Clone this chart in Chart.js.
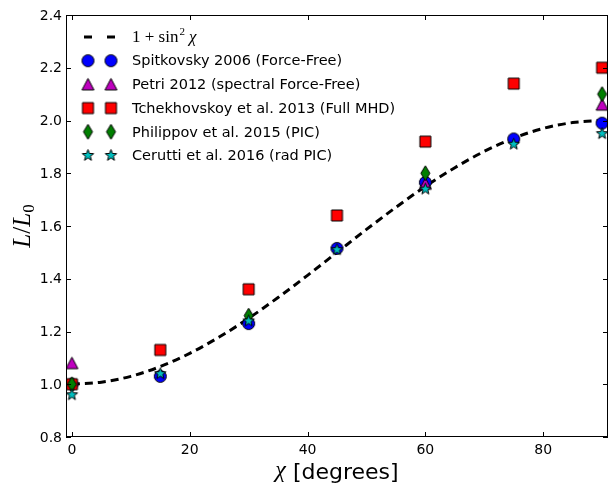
<!DOCTYPE html>
<html><head><meta charset="utf-8">
<script src="https://cdn.jsdelivr.net/npm/chart.js@4.4.1/dist/chart.umd.min.js"></script>
<style>html,body{margin:0;padding:0;background:#fff;}canvas{display:block;}</style>
</head><body>
<canvas id="c" width="611" height="486"></canvas>
<script>
// ---- data ----
const curveX = [0,5,10,15,20,25,30,35,40,45,50,55,60,65,70,75,80,85,90];
const curveY = [1.000,1.008,1.030,1.067,1.117,1.179,1.250,1.329,1.413,1.500,1.587,1.671,1.750,1.821,1.883,1.933,1.970,1.992,2.000];
const spitX = [0,15,30,45,60,75,90];
const spitY = [1.00,1.03,1.23,1.515,1.765,1.93,1.99];
const petriX = [0,60,90];
const petriY = [1.08,1.76,2.06];
const tchekX = [0,15,30,45,60,75,90];
const tchekY = [1.00,1.13,1.36,1.64,1.92,2.14,2.20];
const philX = [0,30,60,90];
const philY = [1.00,1.26,1.80,2.10];
const cerX = [0,15,30,45,60,75,90];
const cerY = [0.96,1.04,1.24,1.51,1.74,1.91,1.95];
const xTicks = [0,20,40,60,80];
const yTicks = [0.8,1.0,1.2,1.4,1.6,1.8,2.0,2.2,2.4];
const labels = ['Spitkovsky 2006 (Force-Free)','Petri 2012 (spectral Force-Free)','Tchekhovskoy et al. 2013 (Full MHD)','Philippov et al. 2015 (PIC)','Cerutti et al. 2016 (rad PIC)'];

function pts(xs, ys){ return xs.map((x,i)=>({x:x,y:ys[i]})); }

// ---- marker images ----
function mk(size, fill, path){
  const c = document.createElement('canvas'); c.width = size; c.height = size;
  const g = c.getContext('2d'); const m = size/2;
  g.beginPath(); path(g, m); g.closePath();
  g.fillStyle = fill; g.fill(); g.lineWidth = 1; g.strokeStyle = '#000'; g.stroke();
  return c;
}
const mCircle = mk(15,'#0000ff',(g,m)=>{g.arc(m,m,6,0,Math.PI*2);});
const mTri = mk(15,'#bf00bf',(g,m)=>{g.moveTo(m,m-6);g.lineTo(m+6,m+5.5);g.lineTo(m-6,m+5.5);});
const mSq = mk(15,'#ff0000',(g,m)=>{g.rect(m-5.5,m-5.5,11,11);});
const mDia = mk(17,'#007f00',(g,m)=>{g.moveTo(m,m-7.5);g.lineTo(m+4.5,m);g.lineTo(m,m+7.5);g.lineTo(m-4.5,m);});
const mStar = mk(15,'#00bfbf',(g,m)=>{
  for(let i=0;i<10;i++){const r = i%2===0?6:2.5; const a=-Math.PI/2+i*Math.PI/5;
    const px=m+r*Math.cos(a), py=m+r*Math.sin(a); if(i===0) g.moveTo(px,py); else g.lineTo(px,py);} });
const markers = [mCircle,mTri,mSq,mDia,mStar];

function ds(label, xs, ys, img, order){
  return {label, data: pts(xs,ys), pointStyle: img, pointRadius: 6, showLine:false, order, clip: 0};
}

const framePlugin = {
  id:'frame',
  afterDraw(chart){
    const {ctx, chartArea:a, scales} = chart; const xs = scales.x, ys = scales.y;
    ctx.save();
    ctx.strokeStyle = '#000'; ctx.lineWidth = 1;
    ctx.strokeRect(Math.round(a.left)+0.5, Math.round(a.top)+0.5, Math.round(a.right-a.left)-1, Math.round(a.bottom-a.top)-1);
    ctx.beginPath();
    xTicks.forEach(v=>{ const p = Math.round(xs.getPixelForValue(v))+0.5;
      ctx.moveTo(p,a.bottom); ctx.lineTo(p,a.bottom-5); ctx.moveTo(p,a.top); ctx.lineTo(p,a.top+5); });
    yTicks.forEach(v=>{ const p = Math.round(ys.getPixelForValue(v))+0.5;
      ctx.moveTo(a.left,p); ctx.lineTo(a.left+5,p); ctx.moveTo(a.right,p); ctx.lineTo(a.right-5,p); });
    ctx.stroke();

    // tick labels
    ctx.fillStyle = '#000';
    ctx.font = '14px "DejaVu Sans"';
    ctx.textAlign = 'center'; ctx.textBaseline = 'top';
    xTicks.forEach(v=>{ ctx.fillText(String(v), xs.getPixelForValue(v), a.bottom + 6); });
    ctx.textAlign = 'right'; ctx.textBaseline = 'middle';
    yTicks.forEach(v=>{ ctx.fillText(v.toFixed(1), a.left - 4, ys.getPixelForValue(v) + 1); });
    ctx.textAlign = 'left';

    // legend
    const lx1 = 88, lx2 = 111, tx = 132, y0 = 37, dy = 23.7;
    ctx.strokeStyle = '#000'; ctx.lineWidth = 3;
    ctx.beginPath(); ctx.moveTo(lx1-4,y0); ctx.lineTo(lx1+4,y0); ctx.moveTo(lx2-4,y0); ctx.lineTo(lx2+4,y0); ctx.stroke();
    ctx.textBaseline = 'alphabetic';
    let x = tx; const by = y0+5;
    ctx.font = '17px "Liberation Serif"';
    const s1 = '1 + sin'; ctx.fillText(s1, x, by); x += ctx.measureText(s1).width + 1;
    ctx.font = '11px "Liberation Serif"'; ctx.fillText('2', x, by-7); x += ctx.measureText('2').width + 4;
    ctx.font = 'italic 17px "Liberation Serif"'; ctx.fillText('χ', x, by);
    ctx.font = '14.5px "DejaVu Sans"'; ctx.textBaseline = 'middle';
    labels.forEach((t,i)=>{ const yy = y0 + dy*(i+1); const im = markers[i];
      ctx.drawImage(im, lx1-im.width/2, yy-im.height/2); ctx.drawImage(im, lx2-im.width/2, yy-im.height/2);
      ctx.fillText(t, tx, yy+1); });

    // x axis title
    ctx.textBaseline = 'alphabetic';
    const cx = (a.left+a.right)/2, xb = 479;
    ctx.font = 'italic 24px "Liberation Serif"'; const wChi = ctx.measureText('χ').width;
    ctx.font = '22px "DejaVu Sans"'; const rest = ' [degrees]'; const wRest = ctx.measureText(rest).width;
    let sx = cx - (wChi+wRest)/2;
    ctx.font = 'italic 24px "Liberation Serif"'; ctx.fillText('χ', sx, xb-2);
    ctx.font = '22px "DejaVu Sans"'; ctx.fillText(rest, sx+wChi, xb);

    // y axis title
    ctx.save(); ctx.translate(30, (a.top+a.bottom)/2); ctx.rotate(-Math.PI/2);
    const parts = [['L','italic 25px "Liberation Serif"',0],['/','25px "Liberation Serif"',0],['L','italic 25px "Liberation Serif"',0],['0','17px "Liberation Serif"',4]];
    let tw = 0; parts.forEach(p=>{ctx.font=p[1]; tw += ctx.measureText(p[0]).width;});
    let px = -tw/2;
    parts.forEach(p=>{ctx.font=p[1]; ctx.fillText(p[0], px, p[2]); px += ctx.measureText(p[0]).width;});
    ctx.restore();
    ctx.restore();
  }
};

new Chart(document.getElementById('c'), {
  type:'scatter',
  data:{ datasets:[
    {label:'curve', data: pts(curveX,curveY), showLine:true, borderColor:'#000', borderWidth:3, borderDash:[8,5], pointRadius:0, cubicInterpolationMode:'monotone', order:6, clip:0},
    ds(labels[0], spitX, spitY, mCircle, 5),
    ds(labels[1], petriX, petriY, mTri, 4),
    ds(labels[2], tchekX, tchekY, mSq, 3),
    ds(labels[3], philX, philY, mDia, 2),
    ds(labels[4], cerX, cerY, mStar, 1)
  ]},
  options:{
    responsive:false, animation:false, events:[],
    layout:{autoPadding:false, padding:{top:15, right:3, left:0, bottom:0}},
    plugins:{legend:{display:false}, tooltip:{enabled:false}},
    scales:{
      x:{type:'linear', min:-1, max:91, grid:{display:false, drawTicks:false}, border:{display:false},
         afterBuildTicks:(s)=>{ s.ticks = xTicks.map(v=>({value:v})); },
         afterFit:(s)=>{ s.height = 49; },
         ticks:{display:false}},
      y:{type:'linear', min:0.8, max:2.4, grid:{display:false, drawTicks:false}, border:{display:false},
         afterBuildTicks:(s)=>{ s.ticks = yTicks.map(v=>({value:v})); },
         afterFit:(s)=>{ s.width = 66; },
         ticks:{display:false}}
    }
  },
  plugins:[framePlugin]
});
</script>
</body></html>
